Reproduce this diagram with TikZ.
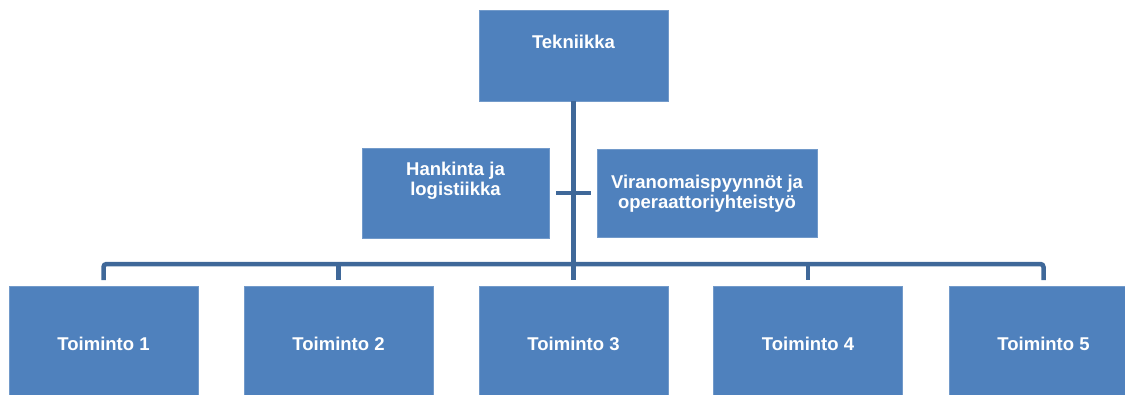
\documentclass[tikz,border=0pt]{standalone}
\usepackage{fontspec}
\setmainfont{Liberation Sans}
\definecolor{boxblue}{HTML}{4F81BD}
\definecolor{lineblue}{HTML}{3F6899}
\begin{document}
\begin{tikzpicture}[x=1pt,y=-1pt,
  box/.style={draw=boxblue!80!white, line width=0.6pt, fill=boxblue, inner sep=0pt},
  lbl/.style={text=white, font=\fontsize{18.5}{20}\selectfont\bfseries, align=center, inner sep=0pt},
  conn/.style={draw=lineblue, line width=4.5pt, rounded corners=3pt}]
\useasboundingbox (0,0) rectangle (1125,394);
\begin{scope}
\clip (0,0) rectangle (1125,394);
% head
\node[box, minimum width=189, minimum height=91] (tek) at (573.5,55.5) {};
\node[lbl] (tekl) at ([yshift=13.5pt]tek.center) {Tekniikka};
% assistants
\node[box, minimum width=187, minimum height=90] (hank) at (455.5,193) {};
\node[lbl] (hankl) at ([yshift=12pt]hank.center) {Hankinta ja\\logistiikka};
\node[box, minimum width=220, minimum height=88] (vir) at (707,193) {};
\node[lbl] (virl) at ([yshift=-1pt]vir.center) {Viranomaispyynnöt ja\\operaattoriyhteistyö};
% units
\foreach \i/\x in {1/103.5, 2/338.5, 3/573.5, 4/808, 5/1043.5} {
  \node[box, minimum width=189, minimum height=110] (t\i) at (\x,341) {};
  \node[lbl] (t\i l) at ([yshift=-3pt]t\i.center) {Toiminto \i};
}
% connectors
\coordinate (bus) at (0,264);
\coordinate (drop) at (0,280);
\draw[conn] (tek.south) -- (tek.south |- drop);
\draw[conn] (t1.north |- drop) -- (t1.north |- bus) -- (t5.north |- bus) -- (t5.north |- drop);
\draw[conn] (t2.north |- bus) -- (t2.north |- drop);
\draw[conn] (t4.north |- bus) -- (t4.north |- drop);
\draw[conn, shorten <=7pt, shorten >=6pt] (hank.east) -- (vir.west |- hank.east);
\end{scope}
\end{tikzpicture}
\end{document}
